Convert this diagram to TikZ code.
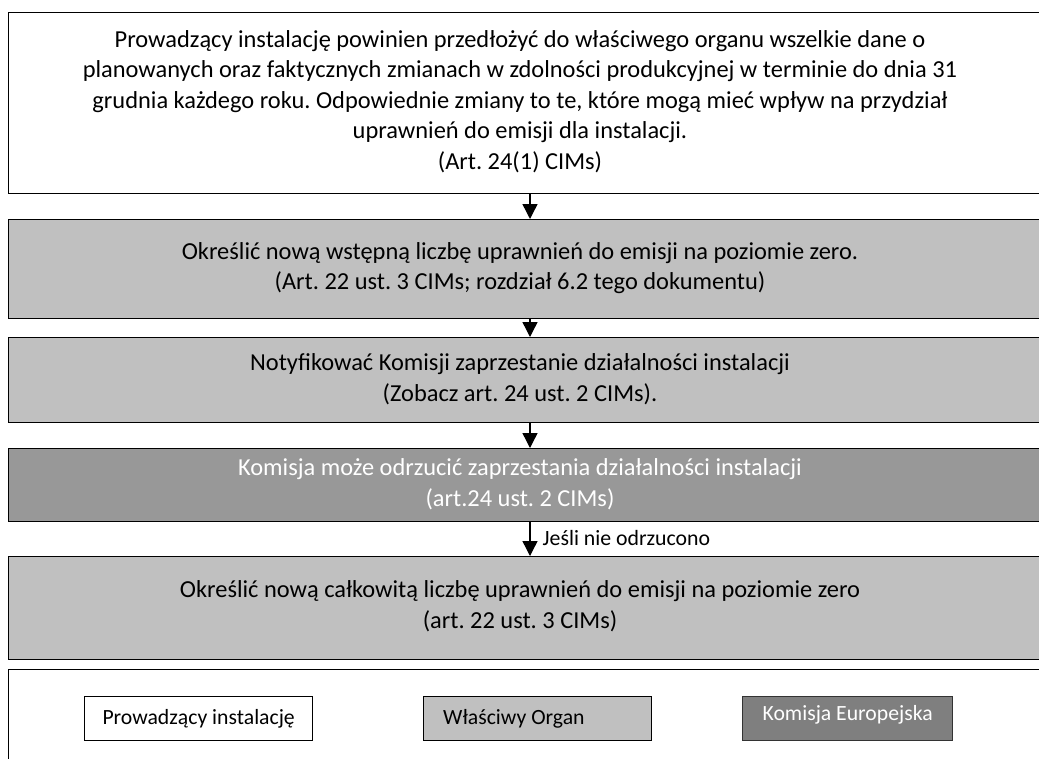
\documentclass[tikz,border=0pt]{standalone}
\usepackage{fontspec}
\setmainfont{Carlito}
\usetikzlibrary{arrows.meta}
\definecolor{lightgrey}{HTML}{C0C0C0}
\definecolor{midgrey}{HTML}{989898}
\definecolor{darkgrey}{HTML}{7F7F7F}
\tikzset{
  stepbox/.style={draw=black, line width=1.4pt, rectangle, anchor=north west, inner sep=0pt},
  steptext/.style={align=center, font=\fontsize{24.4}{30.5}\selectfont, inner sep=0pt},
  flow/.style={line width=1.4pt, -{Triangle[width=15pt,length=15pt]}},
  keybox/.style={draw=black, line width=1.3pt, rectangle, anchor=north west, inner sep=0pt,
    minimum width=228pt, minimum height=44pt},
  keytext/.style={font=\fontsize{21.7}{25}\selectfont, inner sep=0pt},
}
\frenchspacing
\begin{document}
\begin{tikzpicture}[x=1pt,y=-1pt]
\useasboundingbox (0,0) rectangle (1039,758);
\fill[white] (0,0) rectangle (1039,758);

% process boxes, running off the right edge
\node[stepbox, fill=white, minimum width=1045pt, minimum height=181pt] (b1) at (8,12) {};
\node[stepbox, fill=lightgrey, minimum width=1045pt, minimum height=99pt] (b2) at (8,219) {};
\node[stepbox, fill=lightgrey, minimum width=1045pt, minimum height=85pt] (b3) at (8,337) {};
\node[stepbox, fill=midgrey, minimum width=1045pt, minimum height=73pt] (b4) at (8,448) {};
\node[stepbox, fill=lightgrey, minimum width=1045pt, minimum height=103pt] (b5) at (8,556) {};

% texts of the boxes
\node[steptext] (t1) at (520,101.5) {Prowadzący instalację powinien przedłożyć do właściwego organu wszelkie dane o\\
planowanych oraz faktycznych zmianach w zdolności produkcyjnej w terminie do dnia 31\\
grudnia każdego roku. Odpowiednie zmiany to te, które mogą mieć wpływ na przydział\\
uprawnień do emisji dla instalacji.\\
(Art. 24(1) CIMs)};
\node[steptext] (t2) at (520,268) {Określić nową wstępną liczbę uprawnień do emisji na poziomie zero.\\
(Art. 22 ust. 3 CIMs; rozdział 6.2 tego dokumentu)};
\node[steptext] (t3) at (520,379) {Notyfikować Komisji zaprzestanie działalności instalacji\\
(Zobacz art. 24 ust. 2 CIMs).};
\node[steptext, text=white] (t4) at (520,484) {Komisja może odrzucić zaprzestania działalności instalacji\\
(art.24 ust. 2 CIMs)};
\node[steptext] (t5) at (520,606) {Określić nową całkowitą liczbę uprawnień do emisji na poziomie zero\\
(art. 22 ust. 3 CIMs)};

% connectors
\coordinate (a1) at (530,193);
\coordinate (a2) at (530,318);
\coordinate (a3) at (530,422);
\coordinate (a4) at (530,521);
\draw[flow] (a1) -- (a1 |- b2.north);
\draw[flow] (a2) -- (a2 |- b3.north);
\draw[flow] (a3) -- (a3 |- b4.north);
\draw[flow] (a4) -- (a4 |- b5.north)
  node[midway, right=12pt, font=\fontsize{21.8}{25}\selectfont, inner sep=0pt] (lbl) {Jeśli nie odrzucono};

% key
\node[stepbox, fill=white, minimum width=1045pt, minimum height=100pt] (key) at (8,669) {};
\node[keybox, fill=white] (k1) at (84,696) {};
\node[keytext] at (k1.center) {Prowadzący instalację};
\node[keybox, fill=lightgrey] (k2) at (423,696) {};
\node[keytext, anchor=west] at ([xshift=20pt]k2.west) {Właściwy Organ};
\node[keybox, fill=darkgrey, draw=black!80, minimum width=210pt] (k3) at (742,696) {};
\node[keytext, text=white] at ([yshift=4pt]k3.center) {Komisja Europejska};
\end{tikzpicture}
\end{document}
